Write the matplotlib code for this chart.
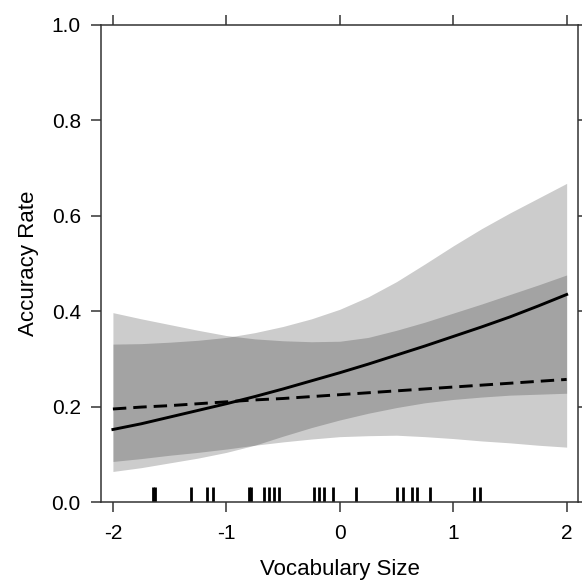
import numpy as np
import matplotlib
matplotlib.use('Agg')
import matplotlib.pyplot as plt

plt.rcParams['font.family'] = ['Liberation Sans', 'DejaVu Sans']

# vocabulary size grid (standardised)
vocab = [-2.0, -1.75, -1.5, -1.25, -1.0, -0.75, -0.5, -0.25, 0.0,
         0.25, 0.5, 0.75, 1.0, 1.25, 1.5, 1.75, 2.0]

# solid line: fitted accuracy + CI
solid_fit = [0.152, 0.164, 0.178, 0.192, 0.206, 0.221, 0.237, 0.254, 0.271,
             0.289, 0.308, 0.327, 0.347, 0.367, 0.388, 0.411, 0.435]
solid_lo = [0.064, 0.072, 0.082, 0.092, 0.104, 0.119, 0.138, 0.156, 0.172,
            0.186, 0.198, 0.208, 0.215, 0.220, 0.224, 0.226, 0.228]
solid_hi = [0.331, 0.332, 0.335, 0.339, 0.345, 0.355, 0.368, 0.384, 0.404,
            0.430, 0.462, 0.499, 0.537, 0.573, 0.606, 0.637, 0.668]

# dashed line: fitted accuracy + CI
dash_fit = [0.195, 0.199, 0.202, 0.206, 0.210, 0.214, 0.217, 0.221, 0.225,
            0.229, 0.233, 0.237, 0.241, 0.245, 0.249, 0.253, 0.257]
dash_lo = [0.085, 0.091, 0.098, 0.104, 0.111, 0.119, 0.126, 0.132, 0.137,
           0.139, 0.140, 0.137, 0.133, 0.128, 0.124, 0.119, 0.115]
dash_hi = [0.397, 0.384, 0.372, 0.360, 0.349, 0.342, 0.338, 0.336, 0.337,
           0.345, 0.360, 0.377, 0.396, 0.415, 0.435, 0.455, 0.476]

# observed vocabulary scores (rug)
rug = [-1.645, -1.628, -1.313, -1.169, -1.122, -0.800, -0.785, -0.664, -0.623,
       -0.579, -0.535, -0.229, -0.182, -0.138, -0.059, 0.147, 0.500, 0.558,
       0.640, 0.685, 0.799, 1.183, 1.233]

xticks = [-2, -1, 0, 1, 2]
yticks = [0.0, 0.2, 0.4, 0.6, 0.8, 1.0]

fig = plt.figure(figsize=(5.82, 5.80), dpi=100)
W, H = 582.0, 580.0
ax = fig.add_axes([101 / W, 1 - 502 / H, 477 / W, 477 / H])

# bands (overlap gives darker grey)
ax.fill_between(vocab, solid_lo, solid_hi, color='black', alpha=0.2, lw=0)
ax.fill_between(vocab, dash_lo, dash_hi, color='black', alpha=0.2, lw=0)

ax.plot(vocab, solid_fit, color='black', lw=2.1)
ax.plot(vocab, dash_fit, color='black', lw=2.1, dashes=(4.6, 2.4))

ax.vlines(rug, 0, 0.032, color='black', lw=2.0)

ax.set_xlim(-2.105, 2.1)
ax.set_ylim(0, 1)
ax.set_xticks(xticks)
ax.set_xticklabels([str(t) for t in xticks])
ax.set_yticks(yticks)
ax.set_yticklabels(['%.1f' % t for t in yticks])

ax.tick_params(direction='out', length=7.5, width=1.1, color='#333333',
               labelsize=15, top=True, right=True)
ax.tick_params(axis='x', pad=8)
ax.tick_params(axis='y', pad=7)
for s in ax.spines.values():
    s.set_linewidth(1.1)
    s.set_color('#333333')

ax.set_xlabel('Vocabulary Size', fontsize=16, labelpad=12)
ax.set_ylabel('Accuracy Rate', fontsize=16, labelpad=9)

fig.savefig('out.png', dpi=100)
